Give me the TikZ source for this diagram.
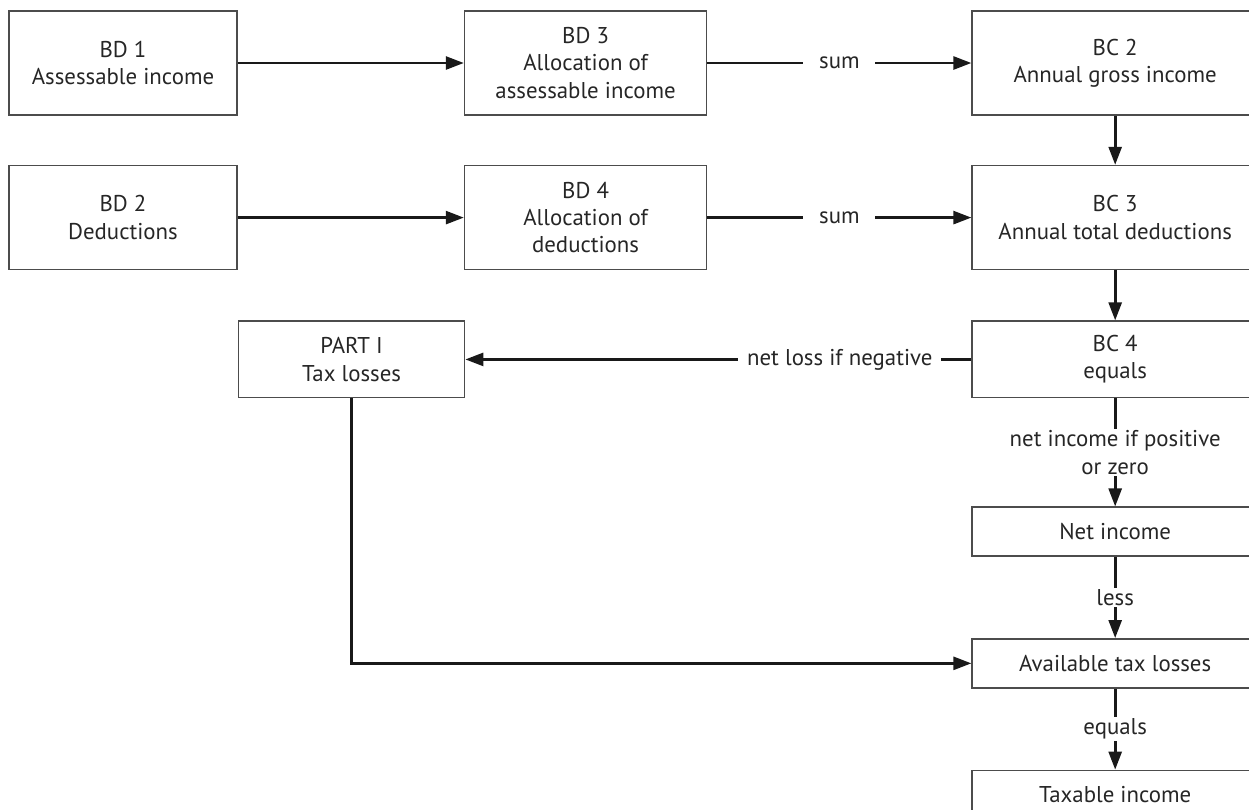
\documentclass[tikz,border=0pt]{standalone}
\usepackage{fontspec}
\setmainfont{PT Sans}
\usetikzlibrary{positioning,arrows.meta}

\begin{document}
\begin{tikzpicture}[
    box/.style={draw=black!70, line width=0.9pt, align=center, inner sep=0pt, text=black!85, font=\fontsize{13pt}{15.5pt}\selectfont},
    tall/.style={box, minimum height=2.08cm},
    mid/.style={box, minimum height=1.53cm},
    flat/.style={box, minimum height=0.98cm},
    link/.style={draw=black!90, line width=1.5pt, -{Triangle[length=0.36cm,width=0.26cm]}},
    tag/.style={fill=white, text=black!85, inner xsep=7pt, inner ysep=1pt, align=center, font=\fontsize{13pt}{15.5pt}\selectfont}
  ]
  \useasboundingbox (0,0) rectangle (24.98,-16.18);
  \clip (0,0) rectangle (24.98,-16.18);
  \node[tall, minimum width=4.56cm] (bd1) at (2.46,-1.26) {BD 1\\Assessable income};
  \node[tall, minimum width=4.84cm, right=4.52cm of bd1] (bd3) {BD 3\\Allocation of\\assessable income};
  \node[tall, minimum width=5.72cm, right=5.28cm of bd3] (bc2) {BC 2\\Annual gross income};
  \node[tall, minimum width=5.72cm, below=0.98cm of bc2] (bc3) {BC 3\\Annual total deductions};
  \node[tall, minimum width=4.84cm, left=5.28cm of bc3] (bd4) {BD 4\\Allocation of\\deductions};
  \node[tall, minimum width=4.56cm, left=4.52cm of bd4] (bd2) {BD 2\\Deductions};
  \node[mid, minimum width=5.72cm, below=1.0cm of bc3] (bc4) {BC 4\\equals};
  \node[mid, minimum width=4.52cm, left=10.12cm of bc4] (part1) {PART I\\Tax losses};
  \node[flat, minimum width=5.72cm, below=2.16cm of bc4] (net) {Net income};
  \node[flat, minimum width=5.72cm, below=1.62cm of net] (atl) {Available tax losses};
  \node[flat, minimum width=5.72cm, below=1.62cm of atl] (tax) {Taxable income};
  \draw[link] (bd1) -- (bd3);
  \draw[link] (bd2) -- (bd4);
  \draw[link] (bd3) -- node[tag, inner xsep=9pt] {sum} (bc2);
  \draw[link] (bd4) -- node[tag, inner xsep=9pt] {sum} (bc3);
  \draw[link] (bc2) -- (bc3);
  \draw[link] (bc3) -- (bc4);
  \draw[link] (bc4) -- node[tag, pos=0.26, inner xsep=5pt] {net loss if negative} (part1);
  \draw[link] (bc4) -- node[tag] {net income if positive\\or zero} (net);
  \draw[link] (net) -- node[tag] {less} (atl);
  \draw[link] (atl) -- node[tag] {equals} (tax);
  \draw[link] (part1) |- (atl);
\end{tikzpicture}
\end{document}
